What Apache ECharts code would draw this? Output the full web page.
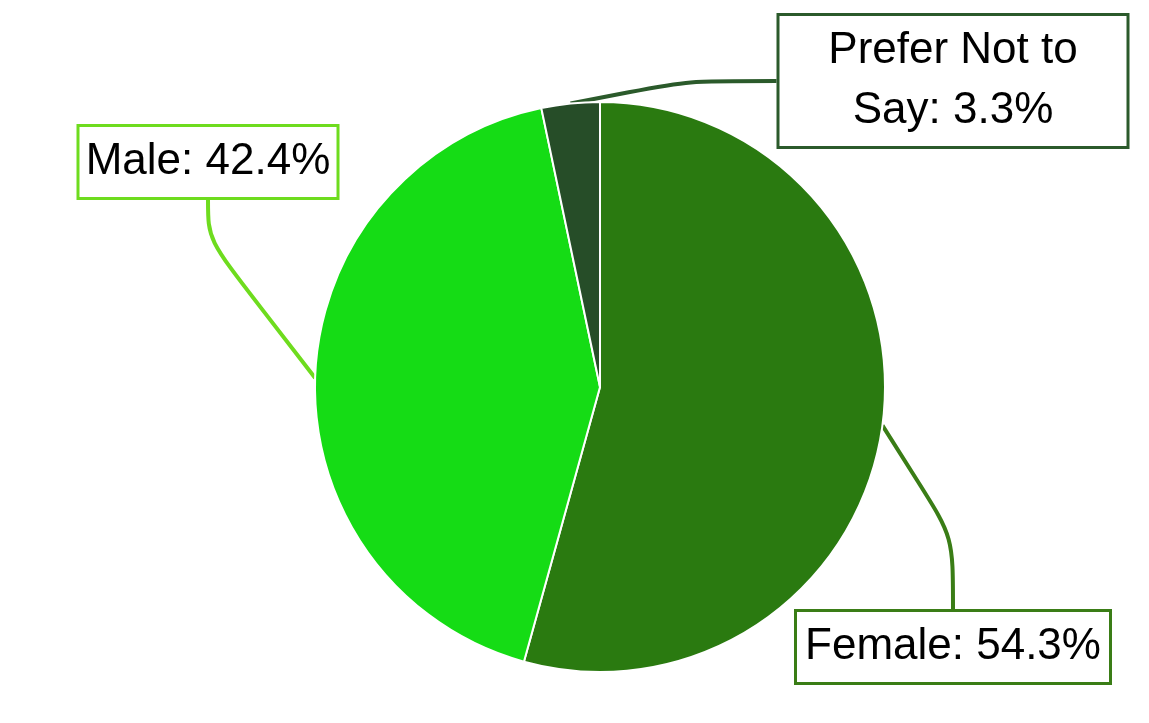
<!DOCTYPE html>
<html>
<head>
<meta charset="utf-8">
<script src="https://cdn.jsdelivr.net/npm/echarts@6/dist/echarts.min.js"></script>
<style>
  html, body { margin: 0; padding: 0; background: #fff; }
  #chart { width: 1149px; height: 723px; }
</style>
</head>
<body>
<div id="chart"></div>
<script>
// data
var categories = ["Female", "Male", "Prefer Not to Say"];
var percents = [54.3, 42.4, 3.3];
var sliceColors = ["#2a7a10", "#15dc15", "#264d28"];
var labelColors = ["#3a7d16", "#6edc1e", "#2b5a2b"];

// label box centre and text width for each slice
var labelSpots = [[953, 647], [208, 162], [953, 81]];
var labelWidths = [300, 245, 335];

var chart = echarts.init(document.getElementById("chart"));

var pieData = categories.map(function (name, i) {
  return {
    name: name,
    value: percents[i],
    itemStyle: { color: sliceColors[i] },
    label: { borderColor: labelColors[i], width: labelWidths[i] },
    labelLine: { lineStyle: { color: labelColors[i], width: 4 } }
  };
});

chart.setOption({
  animation: false,
  series: [{
    type: "pie",
    center: [600, 387],
    radius: [0, 285],
    startAngle: 90,
    clockwise: true,
    data: pieData,
    itemStyle: { borderColor: "#fff", borderWidth: 2 },
    emphasis: { disabled: true },
    label: {
      show: true,
      position: "outside",
      formatter: function (p) {
        if (p.dataIndex === 2) return "Prefer Not to\nSay: " + p.value.toFixed(1) + "%";
        return p.name + ": " + p.value.toFixed(1) + "%";
      },
      fontFamily: "Liberation Sans, Arial, sans-serif",
      fontSize: 44,
      lineHeight: 60,
      color: "#000",
      backgroundColor: "#fff",
      borderWidth: 3,
      padding: [6, 6, 4, 6],
      align: "center",
      overflow: "none"
    },
    labelLine: {
      show: true,
      smooth: 1,
      length: 40,
      length2: 150,
      minTurnAngle: 0,
      maxSurfaceAngle: 180,
      lineStyle: { width: 4 }
    },
    labelLayout: function (params) {
      var s = labelSpots[params.dataIndex];
      return { x: s[0], y: s[1], align: "center", verticalAlign: "middle" };
    }
  }]
});
</script>
</body>
</html>
